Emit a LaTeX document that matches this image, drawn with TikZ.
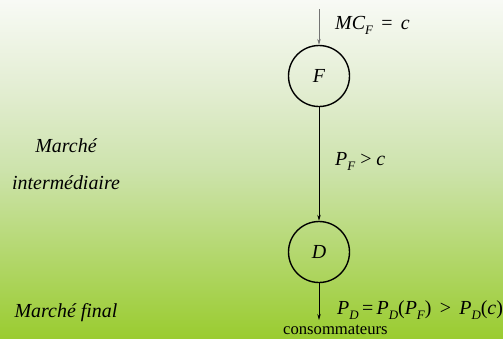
\documentclass[tikz,border=0pt]{standalone}
\usepackage{fontspec}
\setmainfont{Liberation Serif}
\usetikzlibrary{arrows.meta}
\definecolor{gtop}{RGB}{248,250,245}
\definecolor{gq}{RGB}{228,238,212}
\definecolor{gmid}{RGB}{205,227,172}
\definecolor{gbot}{RGB}{154,204,48}
\pgfdeclareverticalshading{bgshade}{100bp}{color(0bp)=(gbot); color(25bp)=(gbot); color(50bp)=(gmid); color(62.5bp)=(gq); color(75bp)=(gtop); color(100bp)=(gtop)}
\newcommand\mysub[1]{\raisebox{-0.28em}{\fontsize{13}{13}\selectfont\itshape #1}}
\begin{document}
\begin{tikzpicture}[x=1bp,y=-1bp,
  every node/.style={font=\fontsize{20}{24}\selectfont},
  firm/.style={circle, draw, line width=1.4bp, minimum size=61bp, inner sep=0pt, font=\fontsize{20}{24}\selectfont\itshape},
  flow/.style={-{Stealth[length=6bp,width=3.5bp]}, line width=0.8bp},
  lbl/.style={anchor=base west, inner sep=0pt},
  mkt/.style={anchor=base, inner sep=0pt, font=\fontsize{20}{24}\selectfont\itshape}]
\useasboundingbox (0,0) rectangle (503,338);
\shade[shading=bgshade] (0,0) rectangle (503,338);
\node[firm] (F) at (319,76) {F};
\node[firm] (D) at (319,252) {D};
\coordinate (top) at (319,9);
\coordinate (bot) at (319,320);
\draw[flow, draw=black!55, line width=0.6bp] (top) -- (F.north);
\draw[flow] (F.south) -- (D.north);
\draw[flow] (D.south) -- (bot);
\node[lbl] (mc) at (335,29) {\itshape MC\mysub{F}\upshape\ \,=\ \,\itshape c};
\node[lbl] (pf) at (335,165) {\itshape P\mysub{F}\upshape\ >\ \itshape c};
\node[lbl] (pd) at (337,314) {\itshape P\mysub{D}\upshape\,=\,\itshape P\mysub{D}\upshape(\itshape P\mysub{F}\upshape)\ \,>\ \,\itshape P\mysub{D}\upshape(\itshape c\upshape)};
\node[lbl, font=\fontsize{16.7}{20}\selectfont] (cons) at (283,334) {consommateurs};
\node[mkt] (m1) at (66,152) {Marché};
\node[mkt] (m2) at (66,189) {intermédiaire};
\node[mkt] (m3) at (66,317) {Marché final};
\end{tikzpicture}
\end{document}
